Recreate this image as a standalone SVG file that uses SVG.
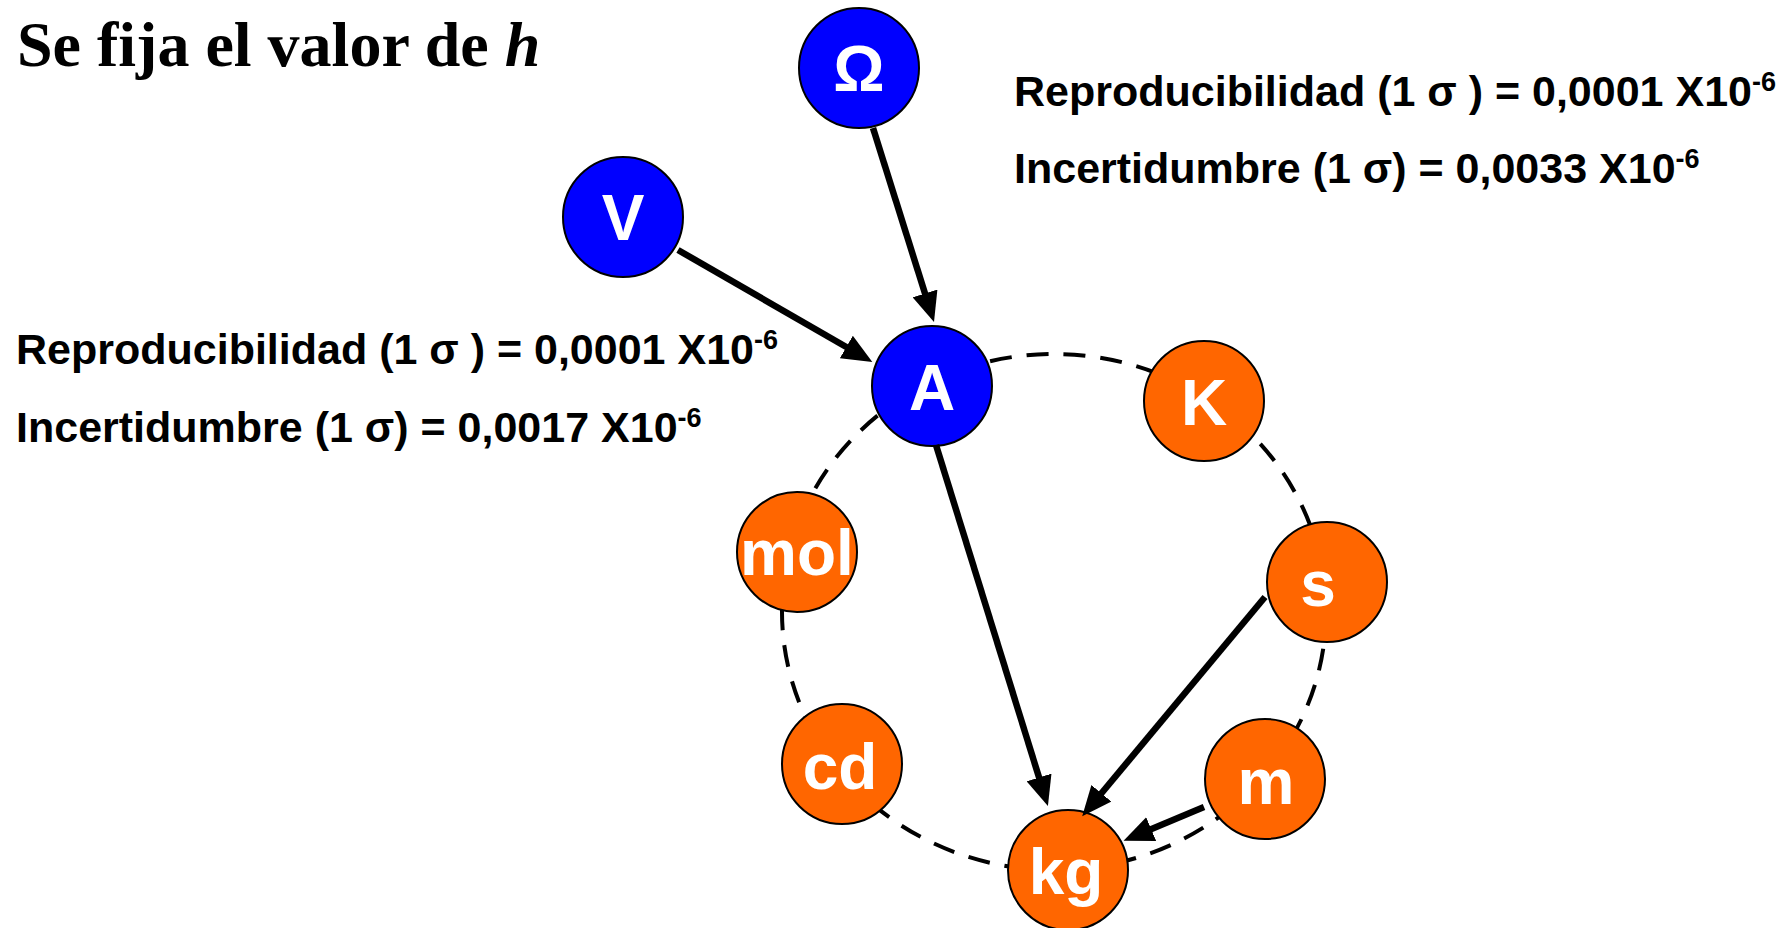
<svg xmlns="http://www.w3.org/2000/svg" width="1790" height="928" viewBox="0 0 1790 928">
<style>
.bg{fill:#ffffff}
.title{font-family:"Liberation Serif","Times New Roman",serif;font-weight:bold;font-size:64px;fill:#000}
.info{font-family:"Liberation Sans",Arial,sans-serif;font-weight:bold;font-size:43px;fill:#000}
.sup{font-size:27px}
.blue{fill:#0000ff;stroke:#000;stroke-width:2}
.orange{fill:#ff6600;stroke:#000;stroke-width:2}
.lbl{font-family:"Liberation Sans",Arial,sans-serif;font-weight:bold;font-size:64px;fill:#fff;text-anchor:middle}
.ring{fill:none;stroke:#000;stroke-width:4;stroke-dasharray:22 15}
.arrow{fill:none;stroke:#000;stroke-width:6.5;marker-end:url(#ah)}
</style>
<defs>
<marker id="ah" markerUnits="userSpaceOnUse" markerWidth="30" markerHeight="26" refX="10" refY="13" orient="auto">
<path d="M0,0 L30,13 L0,26 z" fill="#000"/>
</marker>
</defs>
<rect class="bg" x="0" y="0" width="1790" height="928"/>
<text class="title" x="17" y="66">Se fija el valor de <tspan font-style="italic">h</tspan></text>
<g id="info-omega">
<text class="info" x="1014" y="106">Reproducibilidad (1 σ ) = 0,0001 X10<tspan class="sup" dy="-15">-6</tspan></text>
<text class="info" x="1014" y="183">Incertidumbre (1 σ) = 0,0033 X10<tspan class="sup" dy="-15">-6</tspan></text>
</g>
<g id="info-volt">
<text class="info" x="16" y="364">Reproducibilidad (1 σ ) = 0,0001 X10<tspan class="sup" dy="-15">-6</tspan></text>
<text class="info" x="16" y="442">Incertidumbre (1 σ) = 0,0017 X10<tspan class="sup" dy="-15">-6</tspan></text>
</g>
<g id="ring">
<ellipse class="ring" cx="1054" cy="612" rx="272" ry="258"/>
</g>
<g id="node-omega"><circle class="blue" cx="859" cy="68" r="60"/><text class="lbl" x="859" y="91" font-size="58">Ω</text></g>
<g id="node-V"><circle class="blue" cx="623" cy="217" r="60"/><text class="lbl" x="623" y="240">V</text></g>
<g id="node-A"><circle class="blue" cx="932" cy="386" r="60"/><text class="lbl" x="932" y="410">A</text></g>
<g id="node-K"><circle class="orange" cx="1204" cy="401" r="60"/><text class="lbl" x="1204" y="425">K</text></g>
<g id="node-s"><circle class="orange" cx="1327" cy="582" r="60"/><text class="lbl" x="1318" y="606">s</text></g>
<g id="node-m"><circle class="orange" cx="1265" cy="779" r="60"/><text class="lbl" x="1266" y="804">m</text></g>
<g id="node-kg"><circle class="orange" cx="1068" cy="870" r="60"/><text class="lbl" x="1066" y="894">kg</text></g>
<g id="node-mol"><circle class="orange" cx="797" cy="552" r="60"/><text class="lbl" x="797" y="575">mol</text></g>
<g id="node-cd"><circle class="orange" cx="842" cy="764" r="60"/><text class="lbl" x="840" y="789">cd</text></g>
<g id="connectors">
<line class="arrow" x1="873" y1="128" x2="928" y2="303"/>
<line class="arrow" x1="678" y1="250" x2="855" y2="352"/>
<line class="arrow" x1="936" y1="445" x2="1042" y2="787"/>
<line class="arrow" x1="1265" y1="597" x2="1095" y2="801"/>
<line class="arrow" x1="1204" y1="807" x2="1142" y2="833"/>
</g>
</svg>
